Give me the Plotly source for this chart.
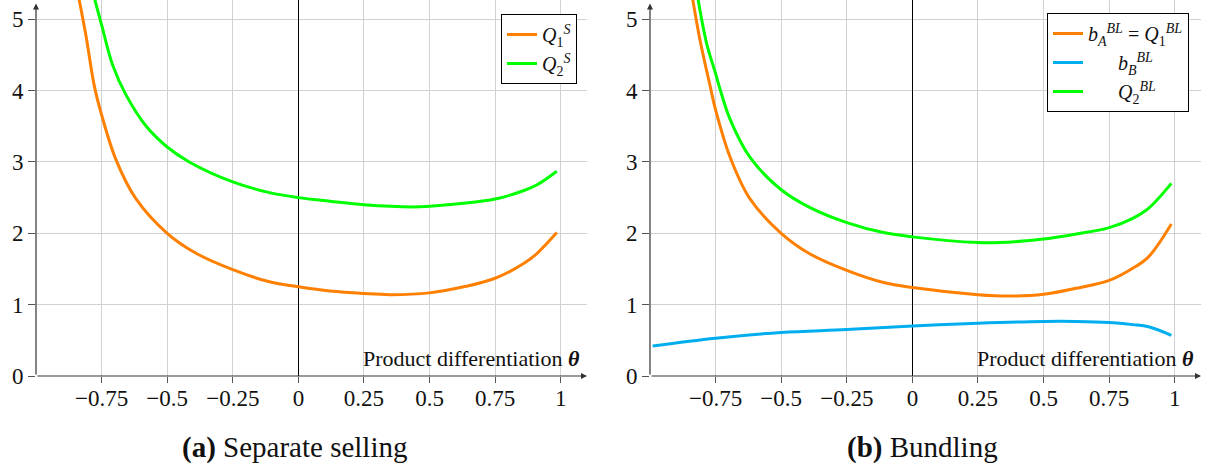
import plotly.graph_objects as go

W, H = 1207, 468

# ---------------- data ----------------
x_ticks = [-0.75, -0.5, -0.25, 0, 0.25, 0.5, 0.75, 1]
x_ticktext = ["\u22120.75", "\u22120.5", "\u22120.25", "0", "0.25", "0.5", "0.75", "1"]
y_ticks = [0, 1, 2, 3, 4, 5]
y_ticktext = ["0", "1", "2", "3", "4", "5"]

# (a) Separate selling
theta_q1s = [-0.845, -0.81, -0.778, -0.75, -0.695, -0.62, -0.5, -0.39, -0.25, -0.11, 0,
             0.12, 0.25, 0.35, 0.5, 0.63, 0.75, 0.86, 0.91, 0.985]
q1s = [5.45, 4.78, 4.07, 3.66, 3.03, 2.49, 2.0, 1.72, 1.49, 1.32, 1.25,
       1.19, 1.155, 1.14, 1.165, 1.25, 1.37, 1.58, 1.72, 2.01]

theta_q2s = [-0.785, -0.75, -0.708, -0.657, -0.58, -0.5, -0.416, -0.25, -0.11, 0,
             0.12, 0.25, 0.44, 0.5, 0.63, 0.75, 0.86, 0.91, 0.985]
q2s = [5.4, 4.92, 4.36, 3.94, 3.50, 3.21, 3.0, 2.72, 2.57, 2.5,
       2.45, 2.40, 2.37, 2.38, 2.42, 2.48, 2.60, 2.68, 2.87]

# (b) Bundling
theta_q1bl = [-0.845, -0.81, -0.77, -0.75, -0.695, -0.62, -0.5, -0.39, -0.25, -0.11, 0,
              0.25, 0.37, 0.5, 0.625, 0.75, 0.84, 0.9, 0.987]
q1bl = [5.45, 4.72, 4.05, 3.73, 3.07, 2.49, 2.0, 1.71, 1.48, 1.31, 1.24,
        1.14, 1.12, 1.145, 1.23, 1.34, 1.51, 1.67, 2.13]

theta_q2bl = [-0.825, -0.784, -0.75, -0.733, -0.695, -0.62, -0.5, -0.39, -0.25, -0.11, 0,
              0.25, 0.33, 0.5, 0.625, 0.75, 0.84, 0.9, 0.987]
q2bl = [5.45, 4.66, 4.24, 4.02, 3.6, 3.07, 2.61, 2.36, 2.15, 2.01, 1.95,
        1.87, 1.87, 1.92, 1.99, 2.08, 2.21, 2.35, 2.70]

theta_bb = [-0.99, -0.75, -0.5, -0.25, 0, 0.25, 0.5, 0.625, 0.75, 0.84, 0.9, 0.987]
bb = [0.42, 0.53, 0.61, 0.65, 0.70, 0.74, 0.765, 0.765, 0.75, 0.72, 0.69, 0.57]

ORANGE = "#FF8000"
GREEN = "#00FF00"
BLUE = "#00AEEF"
FONT = "Liberation Serif"

fig = go.Figure()

def add_line(x, y, color, name, xa, ya, legend):
    fig.add_trace(go.Scatter(
        x=x, y=y, mode="lines", name=name, xaxis=xa, yaxis=ya, legend=legend,
        line=dict(color=color, width=3, shape="spline", smoothing=1.0),
    ))

add_line(theta_q1s, q1s, ORANGE, "<i>Q</i><sub>1</sub><sup><i>S</i></sup>", "x", "y", "legend")
add_line(theta_q2s, q2s, GREEN, "<i>Q</i><sub>2</sub><sup><i>S</i></sup>", "x", "y", "legend")
add_line(theta_q1bl, q1bl, ORANGE,
         "<i>b</i><sub><i>A</i></sub><sup><i>BL</i></sup> = <i>Q</i><sub>1</sub><sup><i>BL</i></sup>",
         "x2", "y2", "legend2")
add_line(theta_bb, bb, BLUE, "      <i>b</i><sub><i>B</i></sub><sup><i>BL</i></sup>", "x2", "y2", "legend2")
add_line(theta_q2bl, q2bl, GREEN, "      <i>Q</i><sub>2</sub><sup><i>BL</i></sup>", "x2", "y2", "legend2")

XR = [-1, 1.1]
YR = [0, 5.27]
ydom = [92 / H, 1.0]
xdom1 = [36 / W, 587 / W]
xdom2 = [650 / W, 1201 / W]

common_x = dict(
    range=XR, tickvals=x_ticks, ticktext=x_ticktext, showgrid=True,
    gridcolor="#d2d2d2", gridwidth=1, zeroline=True, zerolinecolor="#000000",
    zerolinewidth=1, showline=False, ticks="outside", ticklen=6, tickcolor="#555555",
    ticklabelstandoff=-5,
    tickfont=dict(family=FONT, size=23, color="#111111"), fixedrange=True,
    automargin=False,
)
common_y = dict(
    range=YR, tickvals=y_ticks, ticktext=y_ticktext, showgrid=True,
    gridcolor="#d2d2d2", gridwidth=1, zeroline=False, showline=False,
    ticks="outside", ticklen=7, tickcolor="#555555",
    tickfont=dict(family=FONT, size=23, color="#111111"), fixedrange=True,
    automargin=False,
)

fig.update_layout(
    width=W, height=H,
    margin=dict(l=0, r=0, t=0, b=0, autoexpand=False),
    paper_bgcolor="white", plot_bgcolor="white",
    font=dict(family=FONT, size=20, color="#111111"),
    xaxis=dict(domain=xdom1, anchor="y", **common_x),
    yaxis=dict(domain=ydom, anchor="x", **common_y),
    xaxis2=dict(domain=xdom2, anchor="y2", **common_x),
    yaxis2=dict(domain=ydom, anchor="x2", **common_y),
    legend=dict(x=577 / W, y=1 - 14 / H, xanchor="right", yanchor="top",
                bordercolor="#000000", borderwidth=1, bgcolor="white",
                font=dict(family=FONT, size=20), tracegroupgap=0,
                itemwidth=30),
    legend2=dict(x=1189 / W, y=1 - 13 / H, xanchor="right", yanchor="top",
                 bordercolor="#000000", borderwidth=1, bgcolor="white",
                 font=dict(family=FONT, size=20), tracegroupgap=0,
                 itemwidth=30),
    showlegend=True,
)

# axis arrows and labels
for xa, ya in (("x", "y"), ("x2", "y2")):
    fig.add_annotation(x=XR[1], y=0, ax=XR[0], ay=0, xref=xa, yref=ya, axref=xa, ayref=ya,
                       text="", showarrow=True, arrowhead=2, arrowsize=1, arrowwidth=1.2,
                       arrowcolor="#333333")
    fig.add_annotation(x=XR[0], y=5.22, ax=XR[0], ay=0, xref=xa, yref=ya, axref=xa, ayref=ya,
                       text="", showarrow=True, arrowhead=2, arrowsize=1, arrowwidth=1.2,
                       arrowcolor="#333333")
    fig.add_annotation(x=XR[1], y=0, xref=xa, yref=ya, xanchor="right", yanchor="bottom",
                       yshift=3, xshift=-5, showarrow=False,
                       text="Product differentiation <i><b>\u03b8</b></i>",
                       font=dict(family=FONT, size=22, color="#111111"))

fig.add_annotation(x=295 / W, y=1 - 447 / H, xref="paper", yref="paper", showarrow=False,
                   xanchor="center", yanchor="middle",
                   text="<b>(a)</b> Separate selling",
                   font=dict(family=FONT, size=29, color="#111111"))
fig.add_annotation(x=922 / W, y=1 - 447 / H, xref="paper", yref="paper", showarrow=False,
                   xanchor="center", yanchor="middle",
                   text="<b>(b)</b> Bundling",
                   font=dict(family=FONT, size=29, color="#111111"))

fig.write_html(
    "out.html",
    config={"displayModeBar": False},
    post_script="document.body.style.margin='0';document.body.style.overflow='hidden';",
)
